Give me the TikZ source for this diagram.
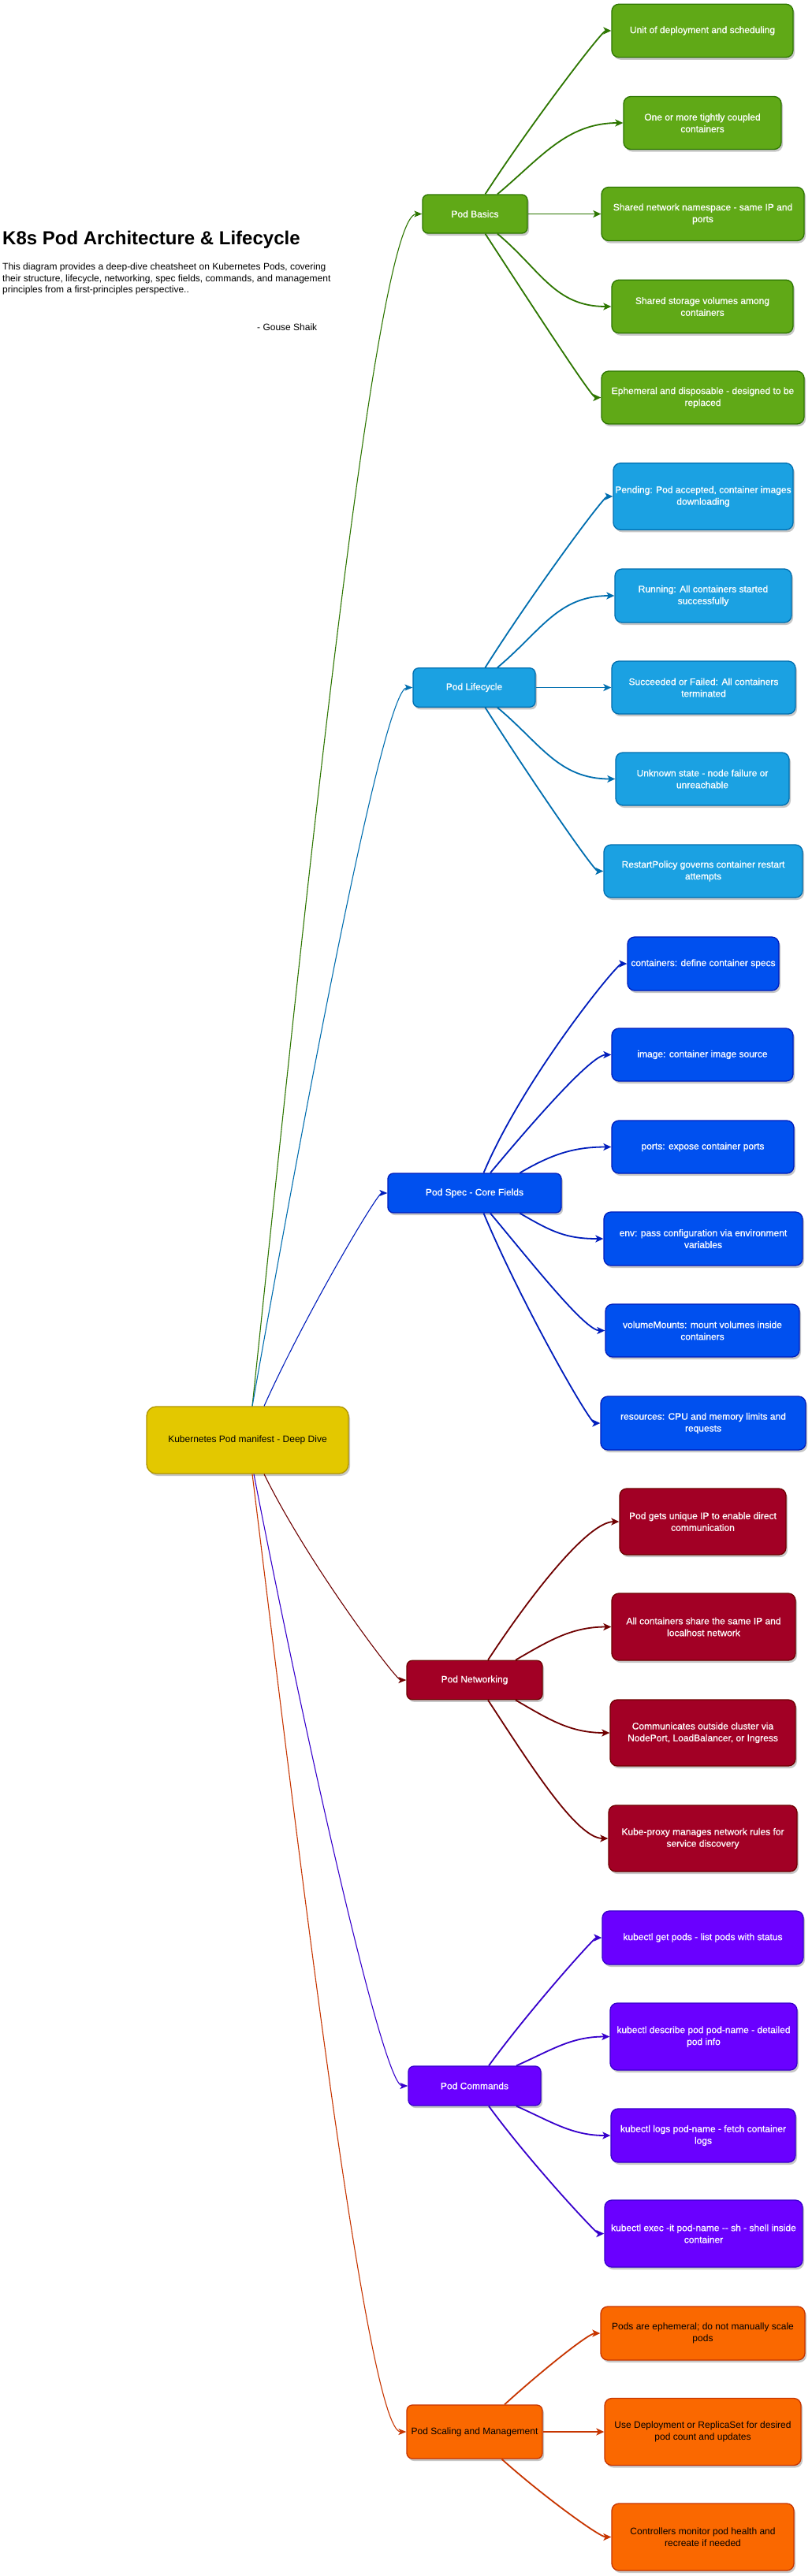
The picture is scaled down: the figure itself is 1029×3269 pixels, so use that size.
\documentclass[tikz,border=0pt]{standalone}
\usepackage{fontspec}
\setmainfont{Liberation Sans}
\newfontfamily\wfont{Liberation Sans}[FakeBold=0.6]
\usetikzlibrary{arrows.meta,shadows}
\definecolor{gfill}{HTML}{60A917}\definecolor{gline}{HTML}{2D7600}
\definecolor{lfill}{HTML}{1BA1E2}\definecolor{lline}{HTML}{006EAF}
\definecolor{sfill}{HTML}{0050EF}\definecolor{sline}{HTML}{001DBC}
\definecolor{nfill}{HTML}{A20025}\definecolor{nline}{HTML}{6F0000}
\definecolor{cfill}{HTML}{6A00FF}\definecolor{cline}{HTML}{3700CC}
\definecolor{ofill}{HTML}{FA6800}\definecolor{oline}{HTML}{C73500}
\definecolor{rfill}{HTML}{E3C800}\definecolor{rline}{HTML}{B09500}
\tikzset{
  box/.style={rectangle, rounded corners=9pt, line width=1.3pt, align=center, inner sep=0pt,
    font=\fontsize{12}{15}\selectfont,
    drop shadow={shadow xshift=2pt, shadow yshift=-3pt, opacity=0.22, fill=black}},
  mainbox/.style={box, rounded corners=7pt},
  wtext/.style={text=white, font=\wfont\fontsize{12}{15}\selectfont},
  gbox/.style={fill=gfill, draw=gline, wtext},
  lbox/.style={fill=lfill, draw=lline, wtext},
  sbox/.style={fill=sfill, draw=sline, wtext},
  nbox/.style={fill=nfill, draw=nline, wtext},
  cbox/.style={fill=cfill, draw=cline, wtext},
  obox/.style={fill=ofill, draw=oline, text=black},
  rbox/.style={fill=rfill, draw=rline, text=black},
  cedge/.style={line width=1.8pt, -{Stealth[length=10pt,width=9pt,inset=2.5pt]}},
  redge/.style={line width=1.1pt, -{Stealth[length=10pt,width=8pt,inset=2.5pt]}},
}
\begin{document}
\begin{tikzpicture}[x=1pt,y=-1pt]
\fill[white] (0,0) rectangle (1029,3269);
\useasboundingbox (0,0) rectangle (1029,3269);

% title block
\node[anchor=base west, inner sep=0pt, font=\bfseries\fontsize{24}{28}\selectfont] (title) at (3,310) {K8s Pod Architecture \& Lifecycle};
\node[anchor=north west, align=left, inner sep=0pt, font=\fontsize{12}{14.5}\selectfont] (desc) at (3,334) {This diagram provides a deep-dive cheatsheet on Kubernetes Pods, covering\\their structure, lifecycle, networking, spec fields, commands, and management\\principles from a first-principles perspective..};
\node[anchor=base west, inner sep=0pt, font=\fontsize{12}{14.5}\selectfont] (author) at (326,419) {- Gouse Shaik};

% root
\node[box, rbox, rounded corners=12pt, minimum width=256pt, minimum height=85pt] (root) at (314,1827.5) {Kubernetes Pod manifest - Deep Dive};

% main nodes
\node[mainbox, gbox, minimum width=133pt, minimum height=49pt] (pb) at (602.5,271.5) {Pod Basics};
\node[mainbox, lbox, minimum width=155pt, minimum height=49.5pt] (pl) at (601.5,872.5) {Pod Lifecycle};
\node[mainbox, sbox, minimum width=220pt, minimum height=50pt] (ps) at (602,1514) {Pod Spec - Core Fields};
\node[mainbox, nbox, minimum width=172pt, minimum height=49.5pt] (pn) at (602,2132) {Pod Networking};
\node[mainbox, cbox, minimum width=168pt, minimum height=50pt] (pc) at (602,2647) {Pod Commands};
\node[mainbox, obox, minimum width=172pt, minimum height=68pt] (po) at (602,3086) {Pod Scaling and Management};

% basics children
\node[box, gbox, minimum width=230pt, minimum height=67.5pt] (u1) at (891,39) {Unit of deployment and scheduling};
\node[box, gbox, minimum width=200pt, minimum height=67pt] (u2) at (891,156) {One or more tightly coupled\\containers};
\node[box, gbox, minimum width=257pt, minimum height=68pt] (u3) at (891.5,271.5) {Shared network namespace - same IP and\\ports};
\node[box, gbox, minimum width=230pt, minimum height=67.5pt] (u4) at (891,389) {Shared storage volumes among\\containers};
\node[box, gbox, minimum width=257pt, minimum height=67pt] (u5) at (891.5,504.5) {Ephemeral and disposable - designed to be\\replaced};

% lifecycle children
\node[box, lbox, minimum width=228pt, minimum height=84.5pt] (l1) at (892,630) {Pending: Pod accepted, container images\\downloading};
\node[box, lbox, minimum width=224pt, minimum height=68pt] (l2) at (892,756) {Running: All containers started\\successfully};
\node[box, lbox, minimum width=233pt, minimum height=67pt] (l3) at (892.5,872.5) {Succeeded or Failed: All containers\\terminated};
\node[box, lbox, minimum width=220pt, minimum height=67pt] (l4) at (891,988.5) {Unknown state - node failure or\\unreachable};
\node[box, lbox, minimum width=252pt, minimum height=67pt] (l5) at (892,1105.5) {RestartPolicy governs container restart\\attempts};

% spec children
\node[box, sbox, minimum width=192pt, minimum height=68pt] (s1) at (892,1223) {containers: define container specs};
\node[box, sbox, minimum width=230pt, minimum height=67pt] (s2) at (891,1338.5) {image: container image source};
\node[box, sbox, minimum width=231pt, minimum height=67pt] (s3) at (891.5,1455.5) {ports: expose container ports};
\node[box, sbox, minimum width=252pt, minimum height=68pt] (s4) at (892,1572) {env: pass configuration via environment\\variables};
\node[box, sbox, minimum width=246pt, minimum height=67pt] (s5) at (891,1688.5) {volumeMounts: mount volumes inside\\containers};
\node[box, sbox, minimum width=260pt, minimum height=68pt] (s6) at (892,1806) {resources: CPU and memory limits and\\requests};

% networking children
\node[box, nbox, minimum width=211pt, minimum height=84pt] (n1) at (891.5,1931) {Pod gets unique IP to enable direct\\communication};
\node[box, nbox, minimum width=233pt, minimum height=85pt] (n2) at (892.5,2064.5) {All containers share the same IP and\\localhost network};
\node[box, nbox, minimum width=235pt, minimum height=84pt] (n3) at (891.5,2199) {Communicates outside cluster via\\NodePort, LoadBalancer, or Ingress};
\node[box, nbox, minimum width=239pt, minimum height=84pt] (n4) at (891.5,2333) {Kube-proxy manages network rules for\\service discovery};

% commands children
\node[box, cbox, minimum width=255pt, minimum height=68pt] (c1) at (891.5,2459) {kubectl get pods - list pods with status};
\node[box, cbox, minimum width=237pt, minimum height=85pt] (c2) at (892.5,2584.5) {kubectl describe pod pod-name - detailed\\pod info};
\node[box, cbox, minimum width=234pt, minimum height=68pt] (c3) at (892,2710) {kubectl logs pod-name - fetch container\\logs};
\node[box, cbox, minimum width=251pt, minimum height=85pt] (c4) at (892.5,2834.5) {kubectl exec -it pod-name -{}- sh - shell inside\\container};

% scaling children
\node[box, obox, minimum width=259pt, minimum height=68pt] (o1) at (891.5,2961) {Pods are ephemeral; do not manually scale\\pods};
\node[box, obox, minimum width=249pt, minimum height=85pt] (o2) at (891.5,3086) {Use Deployment or ReplicaSet for desired\\pod count and updates};
\node[box, obox, minimum width=231pt, minimum height=85pt] (o3) at (891.5,3219.5) {Controllers monitor pod health and\\recreate if needed};

% root edges
\draw[redge, gline] ([xshift=6pt]root.north) .. controls +(63,-597) and +(-60,0) .. (pb.west);
\draw[redge, lline] ([xshift=6pt]root.north) .. controls +(65,-368) and +(-37,0) .. (pl.west);
\draw[redge, sline] ([xshift=21pt]root.north) .. controls +(51,-114) and +(-13,0) .. (ps.west);
\draw[redge, nline] ([xshift=21pt]root.south) .. controls +(56,114) and +(-13,0) .. (pn.west);
\draw[redge, cline] ([xshift=8pt]root.south) .. controls +(61,314) and +(-32,0) .. (pc.west);
\draw[redge, oline] ([xshift=6pt]root.south) .. controls +(60,489) and +(-49,0) .. (po.west);

% basics edges
\draw[cedge, gline] ([xshift=13pt]pb.north) .. controls +(57,-88) and +(-12,0) .. (u1.west);
\draw[cedge, gline] ([xshift=28.5pt]pb.north) .. controls +(55,-46) and +(-72,0) .. (u2.west);
\draw[cedge, gline] (pb.east) -- (u3.west);
\draw[cedge, gline] ([xshift=28.5pt]pb.south) .. controls +(55,46) and +(-72,0) .. (u4.west);
\draw[cedge, gline] ([xshift=13pt]pb.south) .. controls +(56,86) and +(-12,0) .. (u5.west);

% lifecycle edges
\draw[cedge, lline] ([xshift=14pt]pl.north) .. controls +(58,-92) and +(-12,0) .. (l1.west);
\draw[cedge, lline] ([xshift=29.5pt]pl.north) .. controls +(55,-46) and +(-72,0) .. (l2.west);
\draw[cedge, lline] (pl.east) -- (l3.west);
\draw[cedge, lline] ([xshift=29.5pt]pl.south) .. controls +(55,46) and +(-72,0) .. (l4.west);
\draw[cedge, lline] ([xshift=14pt]pl.south) .. controls +(57,90) and +(-12,0) .. (l5.west);

% spec edges
\draw[cedge, sline] ([xshift=11.5pt]ps.north) .. controls +(50,-119) and +(-13,0) .. (s1.west);
\draw[cedge, sline] ([xshift=20pt]ps.north) .. controls +(55,-66) and +(-25,0) .. (s2.west);
\draw[cedge, sline] ([xshift=57.5pt]ps.north) .. controls +(41,-24) and +(-47,0) .. (s3.west);
\draw[cedge, sline] ([xshift=57.5pt]ps.south) .. controls +(41,24) and +(-47,0) .. (s4.west);
\draw[cedge, sline] ([xshift=20pt]ps.south) .. controls +(55,66) and +(-25,0) .. (s5.west);
\draw[cedge, sline] ([xshift=11.5pt]ps.south) .. controls +(50,119) and +(-13,0) .. (s6.west);

% networking edges
\draw[cedge, nline] ([xshift=17pt]pn.north) .. controls +(53,-81) and +(-40,0) .. (n1.west);
\draw[cedge, nline] ([xshift=52pt]pn.north) .. controls +(43,-25) and +(-50,0) .. (n2.west);
\draw[cedge, nline] ([xshift=52pt]pn.south) .. controls +(43,25) and +(-50,0) .. (n3.west);
\draw[cedge, nline] ([xshift=17pt]pn.south) .. controls +(53,81) and +(-40,0) .. (n4.west);

% commands edges
\draw[cedge, cline] ([xshift=18pt]pc.north) .. controls +(51,-70) and +(-10,0) .. (c1.west);
\draw[cedge, cline] ([xshift=53pt]pc.north) .. controls +(45,-20) and +(-49,0) .. (c2.west);
\draw[cedge, cline] ([xshift=53pt]pc.south) .. controls +(45,20) and +(-49,0) .. (c3.west);
\draw[cedge, cline] ([xshift=18pt]pc.south) .. controls +(51,70) and +(-10,0) .. (c4.west);

% scaling edges
\draw[cedge, oline] ([xshift=38pt]po.north) .. controls +(45,-41) and +(-15,0) .. (o1.west);
\draw[cedge, oline] (po.east) -- (o2.west);
\draw[cedge, oline] ([xshift=34.5pt]po.south) .. controls +(51,46) and +(-15,0) .. (o3.west);
\end{tikzpicture}
\end{document}
